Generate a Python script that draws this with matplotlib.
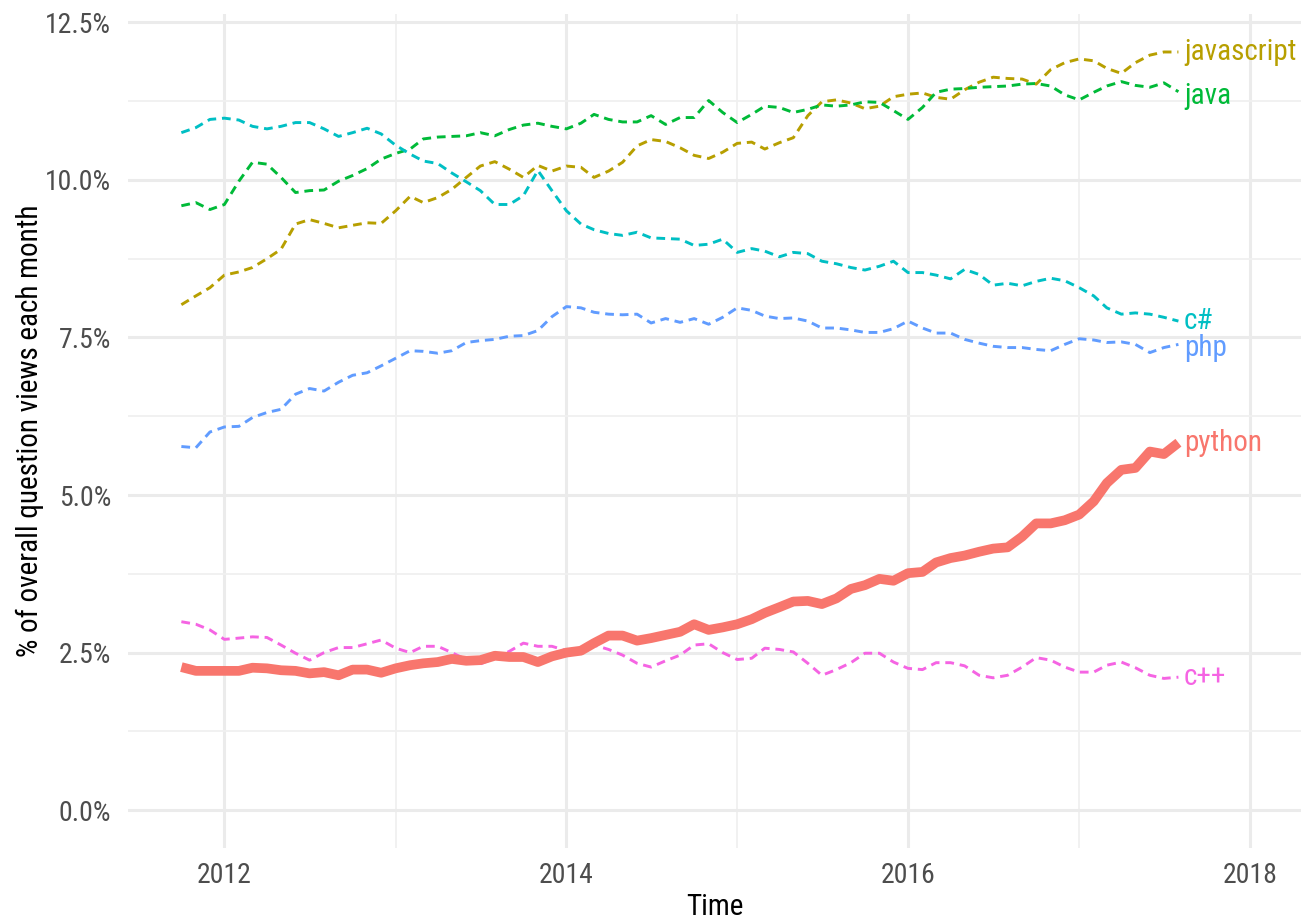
import pandas as pd
import numpy as np
import matplotlib
matplotlib.use("Agg")
import matplotlib.pyplot as plt
import matplotlib.dates as mdates
from matplotlib import font_manager
from matplotlib.ticker import FuncFormatter, MultipleLocator

# pick the narrowest font that is installed
installed = set(f.name for f in font_manager.fontManager.ttflist)
wanted = ['Roboto Condensed', 'Liberation Sans Narrow', 'Open Sans Condensed', 'Roboto']
narrow = [f for f in wanted if f in installed]
plt.rcParams['font.family'] = narrow[:1] + ['DejaVu Sans']
is_condensed = bool(narrow) and narrow[0] != 'Roboto'

# monthly share of question views (%), Oct 2011 - Aug 2017
months = pd.date_range("2011-10-01", periods=71, freq="MS")

python = [2.27, 2.21, 2.21, 2.21, 2.21, 2.26, 2.25, 2.22, 2.21, 2.17, 2.19, 2.14,
          2.23, 2.23, 2.18, 2.25, 2.30, 2.33, 2.35, 2.40, 2.37, 2.38, 2.45, 2.43,
          2.43, 2.35, 2.44, 2.50, 2.53, 2.65, 2.77, 2.77, 2.69, 2.73, 2.78, 2.83,
          2.95, 2.86, 2.90, 2.95, 3.03, 3.13, 3.22, 3.31, 3.32, 3.27, 3.36, 3.51,
          3.57, 3.67, 3.64, 3.76, 3.78, 3.93, 4.00, 4.04, 4.10, 4.15, 4.17, 4.34,
          4.55, 4.55, 4.60, 4.69, 4.90, 5.19, 5.40, 5.43, 5.69, 5.65, 5.83]

javascript = [8.02, 8.16, 8.29, 8.49, 8.54, 8.61, 8.75, 8.90, 9.30, 9.37, 9.31, 9.24,
              9.28, 9.32, 9.31, 9.51, 9.74, 9.64, 9.72, 9.85, 10.04, 10.22, 10.29, 10.17,
              10.04, 10.23, 10.14, 10.22, 10.20, 10.04, 10.14, 10.28, 10.54, 10.64, 10.61, 10.51,
              10.39, 10.34, 10.44, 10.58, 10.60, 10.49, 10.59, 10.67, 11.02, 11.24, 11.27, 11.22,
              11.13, 11.17, 11.32, 11.36, 11.38, 11.31, 11.28, 11.43, 11.55, 11.63, 11.61, 11.60,
              11.52, 11.75, 11.86, 11.92, 11.89, 11.77, 11.69, 11.86, 11.98, 12.03, 12.03]

java = [9.59, 9.64, 9.53, 9.61, 9.98, 10.28, 10.25, 10.04, 9.80, 9.83, 9.84, 9.98,
        10.07, 10.18, 10.33, 10.42, 10.49, 10.65, 10.68, 10.69, 10.70, 10.75, 10.70, 10.80,
        10.87, 10.90, 10.85, 10.81, 10.90, 11.04, 10.96, 10.92, 10.92, 11.02, 10.88, 10.99,
        10.99, 11.26, 11.07, 10.91, 11.04, 11.17, 11.15, 11.07, 11.12, 11.19, 11.17, 11.19,
        11.24, 11.23, 11.10, 10.96, 11.15, 11.39, 11.44, 11.45, 11.47, 11.48, 11.49, 11.52,
        11.53, 11.49, 11.35, 11.27, 11.39, 11.49, 11.56, 11.50, 11.47, 11.54, 11.40]

csharp = [10.75, 10.83, 10.96, 10.98, 10.95, 10.85, 10.81, 10.85, 10.91, 10.91, 10.81, 10.69,
          10.75, 10.82, 10.73, 10.55, 10.41, 10.30, 10.26, 10.11, 9.97, 9.83, 9.61, 9.61,
          9.75, 10.15, 9.83, 9.51, 9.30, 9.21, 9.15, 9.12, 9.17, 9.08, 9.07, 9.06,
          8.96, 8.98, 9.06, 8.85, 8.91, 8.87, 8.78, 8.85, 8.83, 8.71, 8.67, 8.61,
          8.57, 8.63, 8.71, 8.53, 8.53, 8.49, 8.43, 8.58, 8.50, 8.33, 8.36, 8.32,
          8.39, 8.44, 8.40, 8.29, 8.16, 7.97, 7.87, 7.89, 7.87, 7.82, 7.76]

php = [5.77, 5.75, 6.00, 6.08, 6.09, 6.23, 6.31, 6.36, 6.60, 6.69, 6.65, 6.79,
       6.90, 6.94, 7.05, 7.17, 7.29, 7.28, 7.25, 7.29, 7.42, 7.45, 7.47, 7.52,
       7.53, 7.61, 7.83, 7.99, 7.97, 7.90, 7.87, 7.86, 7.87, 7.73, 7.80, 7.74,
       7.80, 7.71, 7.82, 7.97, 7.93, 7.84, 7.80, 7.81, 7.76, 7.65, 7.65, 7.62,
       7.58, 7.58, 7.64, 7.76, 7.65, 7.57, 7.57, 7.47, 7.41, 7.36, 7.34, 7.34,
       7.31, 7.29, 7.39, 7.48, 7.46, 7.42, 7.43, 7.39, 7.26, 7.34, 7.39]

cpp = [2.99, 2.95, 2.86, 2.71, 2.73, 2.75, 2.74, 2.62, 2.49, 2.38, 2.50, 2.58,
       2.58, 2.64, 2.70, 2.57, 2.50, 2.60, 2.60, 2.50, 2.39, 2.32, 2.41, 2.52,
       2.65, 2.60, 2.60, 2.53, 2.49, 2.62, 2.55, 2.46, 2.33, 2.27, 2.37, 2.46,
       2.62, 2.64, 2.50, 2.39, 2.41, 2.57, 2.55, 2.51, 2.33, 2.14, 2.23, 2.34,
       2.49, 2.49, 2.35, 2.25, 2.23, 2.34, 2.34, 2.29, 2.14, 2.10, 2.14, 2.27,
       2.42, 2.38, 2.27, 2.19, 2.19, 2.30, 2.35, 2.26, 2.14, 2.09, 2.11]

tags = ["python", "javascript", "java", "c#", "php", "c++"]
series = [python, javascript, java, csharp, php, cpp]
colors = ["#F8766D", "#B79F00", "#00BA38", "#00BFC4", "#619CFF", "#F564E3"]
label_nudge = {"java": -0.07, "php": -0.06}  # small vertical shift of end labels (%)

# text sizes: condensed fonts can be bigger for the same width
if is_condensed:
    tick_fs, title_fs, tag_fs = 20, 21, 21
else:
    tick_fs, title_fs, tag_fs = 16, 19, 18

fig = plt.figure(figsize=(13.01, 9.21), dpi=100)
ax = fig.add_axes([0.0984, 0.0793, 0.9016, 0.906])

for tag, vals, col in zip(tags, series, colors):
    if tag == "python":
        ax.plot(months, vals, color=col, lw=7, solid_capstyle="butt", zorder=3)
    else:
        ax.plot(months, vals, color=col, lw=2.1, dashes=(3, 2), zorder=2)
    ax.annotate(tag, xy=(months[-1], vals[-1] + label_nudge.get(tag, 0)), xytext=(4, 0),
                textcoords="offset points", color=col, fontsize=tag_fs, va="center", ha="left")

ax.set_xlim(pd.Timestamp("2011-06-09"), pd.Timestamp("2018-04-20"))
ax.set_ylim(-0.6, 12.64)

ax.xaxis.set_major_locator(mdates.YearLocator(2))
ax.xaxis.set_minor_locator(mdates.YearLocator(1))
ax.xaxis.set_major_formatter(mdates.DateFormatter("%Y"))
ax.yaxis.set_major_locator(MultipleLocator(2.5))
ax.yaxis.set_minor_locator(MultipleLocator(1.25))
ax.yaxis.set_major_formatter(FuncFormatter(lambda v, p: "%.1f%%" % v))

ax.grid(which="major", color="#EBEBEB", lw=2.2)
ax.grid(which="minor", color="#F0F0F0", lw=1.3)
ax.set_axisbelow(True)
for s in ax.spines.values():
    s.set_visible(False)
ax.tick_params(which="both", length=0)
ax.tick_params(axis="both", labelsize=tick_fs, labelcolor="#4D4D4D")
ax.tick_params(axis="x", pad=10)
ax.tick_params(axis="y", pad=12)

ax.set_xlabel("Time", fontsize=title_fs, color="black", labelpad=3)
ax.set_ylabel("% of overall question views each month", fontsize=title_fs, color="black", labelpad=1)

fig.savefig("out.png", dpi=100)
